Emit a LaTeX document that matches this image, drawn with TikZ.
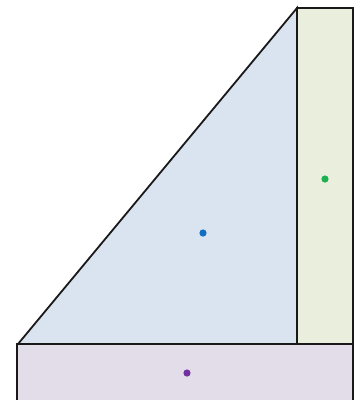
\documentclass[tikz,border=0pt]{standalone}
\usepackage{tikz}
\usetikzlibrary{calc}

\begin{document}
\begin{tikzpicture}[x=1pt, y=-1pt, line join=miter, line width=1.8pt]
\definecolor{fillB}{RGB}{218,227,240}
\definecolor{fillG}{RGB}{234,239,221}
\definecolor{fillV}{RGB}{227,221,234}
\definecolor{dotB}{RGB}{18,110,192}
\definecolor{dotG}{RGB}{30,176,80}
\definecolor{dotV}{RGB}{112,48,160}
% ---- frame ----
\useasboundingbox (0,0) rectangle (360,400);
\clip (0,0) rectangle (360,400);
% ---- corner points ----
\coordinate (foot) at (18,344);
\coordinate (apex) at (297,8);
\coordinate (right) at (297,344);
% ---- triangle ----
\filldraw[fill=fillB, draw=black!90] (foot) -- (apex) -- (right) -- cycle;
% ---- tall strip ----
\filldraw[fill=fillG, draw=black!90] (apex) rectangle (353,344);
% ---- base slab ----
\filldraw[fill=fillV, draw=black!90] (17,344) rectangle (353,410);
% ---- centre dots ----
\fill[dotB] (203,233) circle (3.6pt);
\fill[dotG] (325,179) circle (3.6pt);
\fill[dotV] (187,373) circle (3.6pt);
\end{tikzpicture}
\end{document}
